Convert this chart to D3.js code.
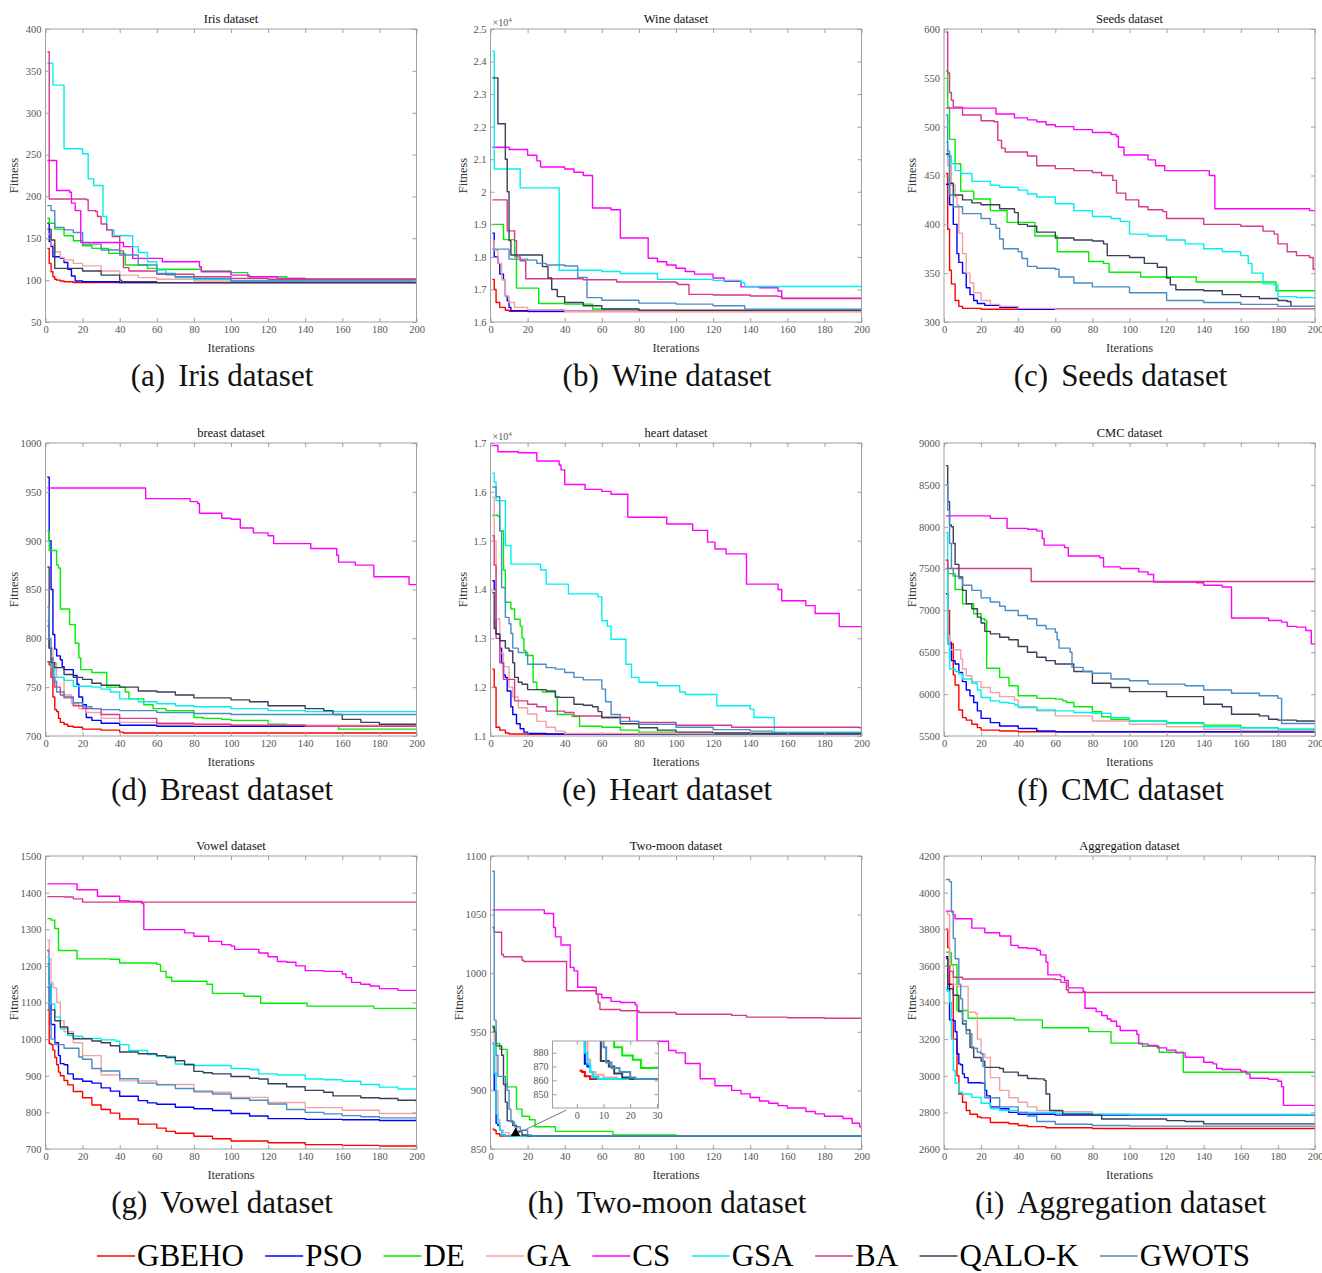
<!DOCTYPE html>
<html>
<head>
<meta charset="utf-8">
<script src="https://cdn.jsdelivr.net/npm/d3@7/dist/d3.min.js"></script>
<style>
body { margin: 0; background: #fff; }
svg text { font-family: "Liberation Serif", "Times New Roman", serif; }
</style>
</head>
<body>
<svg id="chart" width="1322" height="1273"></svg>
<script>
// methods and their line colours (same order in every panel)
var methods = ["GBEHO", "PSO", "DE", "GA", "CS", "GSA", "BA", "QALO-K", "GWOTS"];
var colors = ["#ff0000", "#0000ff", "#00ee00", "#f2a2a2", "#ff00ff", "#00f0f0", "#d8388a", "#3b3f57", "#4a8cc4"];
var iterTicks = [0, 20, 40, 60, 80, 100, 120, 140, 160, 180, 200];

// ---- (a) Iris ----
var irisTicks = [50, 100, 150, 200, 250, 300, 350, 400];
var iris = [
  [[1,138],[2,120],[3,110],[4,104],[5,101],[6,100],[8,99],[10,98],[15,97],[200,97]],
  [[1,168],[2,146],[3,140],[4,128],[8,126],[10,121],[12,113],[14,105],[16,99],[20,98],[40,97],[200,97]],
  [[1,174],[2,168],[5,161],[10,153],[15,147],[20,141],[25,138],[34,132],[43,118],[55,114],[60,113],[84,111],[100,109],[109,104],[130,102],[140,101],[200,100]],
  [[1,155],[3,142],[5,134],[8,127],[10,124],[15,120],[20,117],[30,111],[40,106],[50,103],[60,101],[80,99],[100,98],[140,97],[200,97]],
  [[1,243],[6,207],[13,205],[14,192],[16,183],[19,145],[42,140],[47,126],[63,122],[83,116],[84,110],[100,106],[110,104],[125,102],[140,101],[200,101]],
  [[1,359],[4,333],[10,257],[20,251],[23,221],[26,213],[31,176],[33,160],[37,153],[47,140],[50,133],[55,122],[60,112],[65,106],[70,103],[80,101],[100,99],[200,98]],
  [[1,373],[2,197],[22,196],[23,183],[27,182],[28,176],[30,167],[33,160],[36,152],[40,135],[42,115],[45,111],[60,107],[80,104],[100,102],[120,101],[200,101]],
  [[1,161],[3,148],[5,114],[20,111],[30,106],[40,100],[41,98],[60,97],[200,97]],
  [[1,189],[3,183],[5,163],[10,160],[15,157],[20,143],[30,136],[40,130],[50,118],[60,108],[70,104],[80,102],[100,99],[200,98]]
];

// ---- (b) Wine ----
var wineTicks = [16000, 17000, 18000, 19000, 20000, 21000, 22000, 23000, 24000, 25000];
var wine = [
  [[1,17310],[2,17000],[3,16600],[5,16450],[8,16360],[10,16330],[20,16320],[200,16300]],
  [[1,18730],[2,18000],[4,17800],[5,17470],[7,17300],[8,16800],[9,16650],[10,16450],[11,16350],[20,16330],[200,16310]],
  [[1,19000],[7,18530],[13,18000],[14,17040],[26,16570],[40,16550],[55,16400],[80,16350],[200,16330]],
  [[1,18500],[2,18200],[4,17800],[6,17300],[8,16800],[10,16600],[13,16450],[20,16380],[40,16330],[200,16300]],
  [[1,21370],[10,21300],[20,21120],[25,20950],[27,20760],[40,20700],[45,20600],[50,20500],[55,19500],[65,19450],[70,18580],[85,17960],[90,17850],[95,17750],[100,17650],[105,17550],[110,17470],[120,17350],[126,17250],[135,17080],[145,17050],[155,16950],[157,16720],[200,16720]],
  [[1,24320],[2,20700],[16,20120],[37,17590],[60,17550],[70,17490],[90,17310],[120,17280],[135,17200],[137,17090],[200,17090]],
  [[1,19750],[9,18800],[13,18500],[14,18000],[16,17880],[19,17330],[50,17300],[68,17230],[100,17200],[101,17150],[107,16850],[120,16830],[140,16800],[155,16780],[157,16730],[200,16720]],
  [[1,23500],[4,22090],[8,21000],[9,20000],[10,18500],[11,18060],[28,17700],[31,17350],[33,17000],[36,16780],[40,16600],[50,16500],[60,16400],[80,16360],[200,16330]],
  [[1,18240],[10,17930],[20,17900],[25,17800],[30,17750],[40,17720],[47,17370],[52,16750],[60,16670],[80,16580],[100,16550],[120,16500],[137,16390],[200,16390]]
];

// ---- (c) Seeds ----
var seedsTicks = [300, 350, 400, 450, 500, 550, 600];
var seeds = [
  [[1,452],[2,395],[3,353],[4,339],[6,322],[8,316],[10,314],[20,313],[200,312]],
  [[1,441],[3,420],[5,400],[7,370],[8,361],[10,350],[12,335],[14,328],[16,322],[18,319],[22,317],[30,315],[40,313],[200,312]],
  [[1,557],[2,520],[3,487],[6,462],[9,434],[16,426],[25,414],[34,402],[49,388],[61,372],[78,362],[86,360],[89,351],[106,346],[136,341],[179,332],[200,332]],
  [[1,476],[2,460],[4,440],[6,428],[7,420],[8,391],[10,370],[12,350],[14,340],[16,330],[20,322],[25,318],[30,316],[40,314],[60,313],[200,311]],
  [[1,519],[28,513],[38,509],[45,507],[50,505],[55,502],[60,500],[70,497],[80,494],[90,492],[93,490],[94,479],[97,471],[110,466],[114,460],[119,455],[143,450],[146,416],[197,414],[200,414]],
  [[1,484],[2,470],[4,462],[6,455],[9,452],[15,444],[25,440],[30,438],[40,435],[45,431],[50,428],[60,421],[70,414],[80,408],[90,406],[95,403],[100,390],[110,388],[120,384],[130,380],[140,375],[150,372],[160,368],[164,360],[166,350],[172,339],[178,338],[180,326],[190,325],[200,325]],
  [[1,597],[2,555],[3,535],[4,527],[5,520],[10,512],[20,506],[27,505],[29,486],[31,478],[33,474],[45,470],[50,460],[60,457],[70,455],[80,453],[85,450],[91,445],[93,432],[98,425],[105,418],[110,415],[118,413],[120,406],[140,400],[160,398],[172,393],[178,390],[180,380],[185,372],[190,368],[197,366],[199,354],[200,354]],
  [[1,472],[3,442],[5,430],[10,425],[15,422],[20,420],[30,416],[38,412],[40,400],[45,398],[50,392],[60,386],[70,384],[80,383],[86,380],[88,368],[100,366],[108,360],[115,356],[120,345],[122,338],[125,333],[140,332],[150,328],[160,326],[170,324],[180,322],[185,321],[187,316],[200,315]],
  [[1,512],[2,475],[3,430],[5,418],[10,411],[20,406],[25,400],[28,396],[30,385],[32,375],[40,372],[42,365],[45,357],[50,355],[60,354],[62,346],[70,340],[80,336],[100,330],[120,322],[140,320],[160,318],[180,316],[200,314]]
];

// ---- (d) Breast ----
var breastTicks = [700, 750, 800, 850, 900, 950, 1000];
var breast = [
  [[1,776],[2,773],[3,760],[4,740],[5,727],[6,725],[7,718],[8,714],[10,712],[12,710],[15,709],[20,707],[30,706],[40,704],[42,703],[200,703]],
  [[1,965],[2,900],[3,850],[4,804],[5,789],[6,782],[8,778],[9,771],[10,768],[15,762],[17,753],[18,740],[20,732],[22,719],[25,716],[30,713],[40,711],[60,710],[200,709]],
  [[1,910],[2,890],[6,875],[7,872],[8,830],[13,814],[16,795],[18,780],[19,768],[25,765],[33,750],[43,745],[45,738],[53,732],[58,728],[65,726],[80,719],[85,718],[95,717],[100,716],[120,712],[130,711],[140,710],[158,707],[200,705]],
  [[1,812],[2,790],[4,775],[6,760],[10,742],[14,733],[18,728],[22,724],[30,718],[40,714],[60,712],[80,711],[200,710]],
  [[1,954],[54,943],[78,940],[82,938],[83,928],[95,923],[100,922],[105,913],[112,908],[120,905],[123,897],[143,892],[157,885],[158,878],[167,875],[177,863],[196,855],[200,855]],
  [[1,818],[2,790],[3,770],[5,760],[10,757],[15,751],[25,750],[30,748],[35,745],[40,738],[50,735],[60,733],[70,731],[80,730],[100,728],[120,726],[140,725],[200,725]],
  [[1,813],[2,790],[3,780],[4,760],[5,750],[8,742],[10,740],[15,731],[20,728],[30,722],[40,718],[60,713],[80,712],[100,711],[140,710],[200,709]],
  [[1,873],[2,790],[3,775],[5,770],[10,763],[15,760],[20,758],[25,754],[30,752],[40,750],[50,746],[60,745],[70,742],[80,739],[100,737],[110,735],[120,731],[140,728],[150,726],[155,722],[160,717],[170,714],[180,712],[200,711]],
  [[1,832],[2,800],[3,780],[4,756],[6,745],[10,739],[15,734],[20,730],[25,728],[30,727],[40,726],[60,724],[80,723],[100,722],[200,722]]
];

// ---- (e) Heart ----
var heartTicks = [11000, 12000, 13000, 14000, 15000, 16000, 17000];
var heart = [
  [[1,12370],[2,12000],[3,11180],[5,11120],[8,11060],[10,11040],[20,11035],[200,11030]],
  [[1,14180],[2,14000],[3,13090],[5,12800],[6,12500],[7,12250],[8,12200],[9,11920],[11,11600],[12,11440],[14,11250],[16,11150],[18,11080],[20,11050],[30,11040],[200,11030]],
  [[1,15520],[4,15500],[5,15200],[7,14400],[8,13740],[11,13600],[13,13390],[16,13250],[17,13000],[18,12750],[19,12650],[23,12100],[25,11950],[28,11900],[35,11790],[36,11440],[44,11400],[48,11200],[60,11180],[70,11120],[80,11080],[100,11050],[200,11040]],
  [[1,15890],[2,15000],[3,13400],[5,12700],[7,12420],[10,12000],[12,11800],[15,11580],[20,11450],[25,11300],[30,11180],[35,11100],[40,11050],[200,11030]],
  [[1,16950],[4,16820],[15,16800],[25,16630],[37,16550],[38,16450],[40,16150],[51,16050],[60,16010],[65,15950],[74,15480],[95,15340],[109,15210],[117,14970],[121,14830],[127,14730],[138,14110],[155,14000],[157,13770],[170,13670],[175,13510],[188,13240],[200,13240]],
  [[1,16380],[2,16200],[3,15820],[8,14900],[11,14520],[27,14400],[30,14110],[42,13910],[58,13850],[60,13360],[63,13250],[65,12980],[73,12470],[76,12200],[80,12100],[90,12030],[102,11900],[105,11850],[122,11620],[140,11550],[142,11380],[153,11080],[200,11050]],
  [[1,15100],[2,14500],[3,13000],[5,12500],[7,12160],[13,11720],[20,11650],[25,11600],[30,11510],[40,11480],[45,11410],[60,11380],[75,11300],[80,11280],[100,11220],[130,11180],[199,11170],[200,11060]],
  [[1,13940],[2,13200],[3,13090],[5,12950],[8,12800],[10,12740],[12,12500],[13,12200],[15,12100],[17,12060],[20,11950],[30,11920],[35,11800],[37,11790],[45,11650],[50,11630],[55,11600],[58,11500],[60,11380],[70,11250],[80,11170],[90,11120],[100,11080],[120,11060],[140,11050],[200,11040]],
  [[1,16100],[3,15900],[5,15200],[6,14040],[8,13430],[10,13300],[11,13100],[12,12800],[15,12710],[20,12470],[30,12400],[35,12370],[40,12300],[45,12200],[50,12150],[60,11960],[62,11700],[65,11440],[70,11300],[80,11240],[100,11180],[120,11130],[140,11100],[152,11070],[200,11050]]
];

// ---- (f) CMC ----
var cmcTicks = [5500, 6000, 6500, 7000, 7500, 8000, 8500, 9000];
var cmc = [
  [[1,7600],[2,7000],[3,6620],[4,6600],[5,6230],[6,6110],[8,5810],[10,5720],[12,5690],[15,5640],[18,5600],[20,5570],[30,5560],[40,5550],[200,5540]],
  [[1,7200],[2,6600],[4,6400],[6,6360],[8,6260],[10,6150],[12,6050],[14,5980],[16,5900],[18,5800],[20,5710],[25,5660],[30,5620],[40,5590],[50,5560],[60,5550],[200,5545]],
  [[1,7500],[2,7440],[6,7250],[10,7080],[16,6960],[20,6900],[22,6880],[23,6310],[30,6200],[35,6100],[40,5980],[50,5950],[60,5940],[64,5920],[66,5900],[70,5850],[80,5790],[85,5730],[90,5700],[100,5680],[120,5660],[140,5630],[160,5600],[180,5580],[200,5560]],
  [[1,7150],[2,6700],[3,6530],[9,6420],[10,6300],[12,6220],[15,6150],[20,6080],[25,6020],[30,5970],[38,5930],[40,5850],[50,5800],[60,5740],[80,5680],[100,5640],[120,5610],[140,5580],[160,5565],[200,5550]],
  [[1,8130],[25,8100],[34,7980],[45,7970],[50,7950],[53,7860],[54,7780],[65,7750],[67,7650],[84,7630],[86,7520],[95,7500],[105,7460],[110,7430],[113,7340],[136,7330],[140,7300],[150,7280],[155,6910],[175,6880],[182,6860],[185,6810],[190,6800],[195,6760],[198,6600],[200,6590]],
  [[1,7930],[2,6600],[3,6300],[6,6270],[8,6240],[10,6180],[15,6130],[18,6050],[20,5960],[25,5920],[30,5900],[35,5890],[38,5870],[40,5840],[50,5810],[60,5800],[70,5780],[80,5770],[90,5720],[100,5680],[120,5650],[140,5610],[160,5595],[180,5580],[200,5570]],
  [[1,7600],[2,7500],[47,7345],[200,7345]],
  [[1,8730],[2,8300],[3,8020],[4,8000],[5,7800],[6,7550],[8,7400],[10,7240],[12,7080],[15,7020],[18,6920],[20,6850],[22,6750],[25,6720],[30,6680],[35,6650],[40,6570],[45,6500],[50,6440],[55,6400],[60,6360],[70,6270],[80,6130],[90,6080],[100,6030],[120,5970],[140,5880],[150,5850],[155,5760],[170,5740],[175,5700],[180,5690],[190,5680],[200,5670]],
  [[1,8500],[2,8200],[3,7800],[4,7500],[5,7410],[8,7380],[10,7300],[15,7240],[20,7150],[25,7100],[30,7050],[33,7000],[40,6940],[45,6900],[50,6820],[55,6780],[60,6740],[61,6650],[62,6550],[68,6500],[69,6320],[75,6270],[80,6250],[90,6180],[100,6160],[110,6120],[130,6100],[140,6050],[155,6010],[170,5980],[180,5950],[182,5650],[200,5640]]
];

// ---- (g) Vowel ----
var vowelTicks = [700, 800, 900, 1000, 1100, 1200, 1300, 1400, 1500];
var vowel = [
  [[1,1080],[2,988],[3,985],[4,970],[5,950],[6,930],[7,910],[8,900],[10,887],[12,875],[15,857],[20,840],[25,820],[30,808],[35,798],[40,782],[50,768],[60,757],[65,748],[70,743],[80,735],[90,728],[100,722],[120,717],[140,712],[160,710],[180,708],[200,706]],
  [[1,1242],[2,1150],[3,1040],[5,990],[7,955],[8,933],[10,930],[12,905],[15,891],[20,885],[25,880],[30,867],[35,858],[40,844],[50,832],[55,826],[60,822],[70,814],[80,810],[90,805],[100,797],[110,790],[120,783],[140,781],[160,780],[180,778],[200,774]],
  [[1,1329],[3,1325],[5,1302],[7,1242],[17,1219],[35,1218],[40,1208],[60,1204],[62,1185],[65,1169],[68,1158],[87,1150],[90,1125],[107,1117],[116,1098],[141,1090],[177,1084],[200,1084]],
  [[1,1270],[2,1220],[3,1155],[4,1140],[6,1100],[8,1050],[10,1020],[15,990],[20,955],[30,902],[40,886],[60,876],[80,855],[100,841],[120,827],[140,813],[160,806],[180,797],[200,789]],
  [[1,1424],[17,1408],[28,1390],[40,1378],[45,1376],[52,1370],[53,1299],[75,1290],[80,1281],[88,1267],[95,1258],[100,1254],[102,1245],[115,1235],[120,1225],[125,1212],[130,1210],[135,1200],[140,1187],[150,1185],[160,1178],[162,1168],[165,1155],[170,1150],[175,1145],[180,1138],[190,1133],[200,1133]],
  [[1,1224],[2,1150],[3,1096],[5,1060],[8,1028],[12,1010],[15,1008],[20,1002],[30,998],[38,994],[40,985],[45,969],[55,958],[60,953],[70,932],[80,928],[100,920],[110,917],[115,905],[125,902],[140,891],[150,889],[160,885],[170,876],[180,869],[190,864],[200,859]],
  [[1,1389],[10,1388],[15,1383],[20,1374],[200,1374]],
  [[1,1142],[2,1080],[5,1050],[8,1033],[12,1015],[15,1001],[25,995],[30,990],[35,982],[40,965],[50,960],[60,955],[65,950],[70,941],[75,930],[80,912],[85,908],[90,905],[100,898],[110,893],[115,891],[120,878],[130,870],[140,860],[150,855],[155,845],[170,840],[180,838],[190,833],[200,826]],
  [[1,1206],[2,1080],[3,1000],[5,985],[10,975],[18,951],[20,945],[25,920],[30,913],[40,892],[50,880],[60,875],[70,865],[80,858],[90,850],[100,838],[110,833],[120,823],[130,808],[140,800],[150,796],[160,791],[170,788],[180,785],[200,777]]
];

// ---- (h) Two-moon ----
var moonTicks = [850, 900, 950, 1000, 1050, 1100];
var moonInsetXTicks = [0, 10, 20, 30];
var moonInsetYTicks = [850, 860, 870, 880];
var moon = [
  [[1,867],[2,866],[3,863],[5,861],[200,861]],
  [[1,940],[2,900],[3,872],[4,870],[5,866],[6,862],[8,861],[200,861]],
  [[1,955],[2,950],[3,940],[5,935],[9,903],[14,884],[17,878],[21,875],[24,869],[35,865],[66,862],[100,861],[200,861]],
  [[1,950],[2,930],[3,900],[4,875],[5,866],[7,864],[10,862],[15,861],[200,861]],
  [[1,1054],[29,1051],[34,1039],[35,1031],[38,1024],[43,1005],[45,1002],[47,988],[57,982],[60,979],[65,976],[70,975],[78,973],[79,942],[96,934],[100,932],[105,923],[113,910],[121,904],[130,900],[135,897],[140,894],[145,891],[150,889],[155,887],[160,885],[170,882],[175,880],[180,878],[190,876],[195,872],[199,869],[200,869]],
  [[1,940],[2,915],[3,880],[4,872],[5,866],[6,862],[8,861],[200,861]],
  [[1,1039],[2,1035],[6,1016],[7,1014],[17,1011],[18,1010],[41,985],[57,982],[58,975],[59,969],[70,968],[80,966.5],[100,965],[130,964],[138,962.5],[160,962],[180,961.5],[200,961]],
  [[1,954],[2,950],[3,938],[6,930],[7,905],[8,890],[9,874],[12,870],[14,865],[17,862],[20,861],[200,861]],
  [[1,1087],[2,960],[3,930],[4,912],[8,906],[9,900],[10,884],[11,873],[13,869],[16,866],[20,862],[22,861],[200,861]]
];

// ---- (i) Aggregation ----
var aggTicks = [2600, 2800, 3000, 3200, 3400, 3600, 3800, 4000, 4200];
var agg = [
  [[1,3800],[2,3700],[3,3500],[5,3200],[7,3000],[8,2900],[10,2855],[12,2810],[14,2790],[18,2775],[20,2770],[25,2745],[35,2738],[40,2728],[45,2722],[55,2716],[80,2712],[200,2710]],
  [[1,3650],[2,3500],[3,3305],[5,3300],[6,3240],[7,3120],[8,3065],[9,3060],[10,3010],[11,2990],[13,2962],[20,2960],[22,2920],[23,2890],[25,2830],[30,2820],[35,2800],[40,2790],[60,2785],[200,2785]],
  [[1,3675],[3,3670],[4,3606],[7,3356],[13,3314],[38,3305],[53,3262],[78,3241],[90,3178],[107,3161],[116,3128],[129,3019],[200,3019]],
  [[1,3895],[2,3880],[3,3600],[5,3500],[7,3487],[13,3347],[17,3340],[18,3200],[20,3120],[22,3100],[25,2990],[30,2920],[35,2880],[40,2855],[45,2830],[50,2810],[60,2804],[80,2790],[100,2788],[200,2785]],
  [[1,3899],[5,3880],[6,3857],[15,3806],[22,3781],[30,3763],[36,3712],[40,3699],[45,3695],[50,3685],[52,3660],[55,3620],[56,3551],[63,3540],[65,3520],[67,3480],[75,3460],[76,3369],[82,3350],[85,3329],[88,3310],[90,3298],[93,3270],[95,3247],[104,3225],[105,3174],[110,3165],[115,3152],[120,3140],[125,3125],[130,3101],[140,3074],[145,3065],[147,3040],[150,3034],[160,3025],[163,3010],[165,2986],[175,2980],[180,2970],[182,2940],[183,2838],[200,2838]],
  [[1,3470],[2,3460],[3,3400],[4,3200],[5,3030],[6,2960],[8,2910],[10,2900],[15,2882],[20,2850],[25,2820],[30,2810],[40,2800],[60,2795],[80,2790],[100,2788],[200,2785]],
  [[1,3600],[3,3570],[5,3538],[10,3528],[60,3525],[63,3510],[66,3470],[67,3455],[200,3455]],
  [[1,3640],[2,3475],[5,3440],[8,3350],[10,3283],[12,3250],[14,3156],[16,3100],[20,3080],[22,3046],[30,3040],[32,3020],[40,3001],[45,2985],[50,2983],[54,2975],[55,2900],[57,2810],[64,2790],[80,2785],[85,2764],[120,2755],[130,2750],[140,2737],[200,2735]],
  [[1,4072],[3,4060],[4,3894],[5,3750],[6,3639],[8,3500],[9,3420],[10,3300],[12,3230],[15,3150],[18,3128],[20,3120],[21,3050],[22,2880],[30,2830],[40,2800],[45,2780],[50,2750],[60,2735],[80,2728],[100,2725],[200,2722]]
];

var panels = [
  {tag: "(a)", title: "Iris dataset", caption: "Iris dataset", data: iris, ticks: irisTicks},
  {tag: "(b)", title: "Wine dataset", caption: "Wine dataset", data: wine, ticks: wineTicks, sci: true},
  {tag: "(c)", title: "Seeds dataset", caption: "Seeds dataset", data: seeds, ticks: seedsTicks},
  {tag: "(d)", title: "breast dataset", caption: "Breast dataset", data: breast, ticks: breastTicks},
  {tag: "(e)", title: "heart dataset", caption: "Heart dataset", data: heart, ticks: heartTicks, sci: true},
  {tag: "(f)", title: "CMC dataset", caption: "CMC dataset", data: cmc, ticks: cmcTicks},
  {tag: "(g)", title: "Vowel dataset", caption: "Vowel dataset", data: vowel, ticks: vowelTicks},
  {tag: "(h)", title: "Two-moon dataset", caption: "Two-moon dataset", data: moon, ticks: moonTicks, inset: true},
  {tag: "(i)", title: "Aggregation dataset", caption: "Aggregation dataset", data: agg, ticks: aggTicks}
];

var svg = d3.select("#chart");
var colLeft = [45.5, 490.5, 944],
    rowTop = [29, 443, 856],
    W = 371,
    H = 293,
    frameColor = "#a0a0a0",
    tickColor = "#555";

function frameAxes(g, x, y, w, h, fmt, xt, yt, fs) {
  g.append("g").attr("transform", "translate(0," + h + ")")
    .call(d3.axisBottom(x).tickValues(xt).tickSize(-4).tickPadding(4))
    .call(styleAxis, fs);
  g.append("g")
    .call(d3.axisTop(x).tickValues(xt).tickSize(-4).tickFormat(""))
    .call(styleAxis, fs);
  g.append("g")
    .call(d3.axisLeft(y).tickValues(yt).tickSize(-4).tickPadding(4).tickFormat(fmt))
    .call(styleAxis, fs);
  g.append("g").attr("transform", "translate(" + w + ",0)")
    .call(d3.axisRight(y).tickValues(yt).tickSize(-4).tickFormat(""))
    .call(styleAxis, fs);
  g.append("rect").attr("width", w).attr("height", h)
    .attr("fill", "none").attr("stroke", frameColor).attr("stroke-width", 1);
}

function styleAxis(sel, fs) {
  sel.select(".domain").remove();
  sel.selectAll(".tick line").attr("stroke", frameColor);
  sel.selectAll(".tick text").attr("fill", tickColor)
    .style("font-size", fs + "px")
    .style("font-family", "'Liberation Serif', 'Times New Roman', serif");
}

function drawPanel(p, i) {
  var col = i % 3, row = Math.floor(i / 3);
  var left = colLeft[col], top = rowTop[row];
  var g = svg.append("g").attr("transform", "translate(" + left + "," + top + ")");

  var x = d3.scaleLinear().domain([0, 200]).range([0, W]);
  var y = d3.scaleLinear().domain(d3.extent(p.ticks)).range([H, 0]);
  var fmt = p.sci ? function(d) { return +(d / 1e4).toFixed(1); } : function(d) { return d; };

  g.append("rect").attr("width", W).attr("height", H).attr("fill", "#fff");

  var clipId = "clip" + i;
  g.append("clipPath").attr("id", clipId)
    .append("rect").attr("width", W).attr("height", H);

  var line = d3.line()
    .x(function(d) { return x(d[0]); })
    .y(function(d) { return y(d[1]); })
    .curve(d3.curveStepAfter);

  g.append("g").attr("clip-path", "url(#" + clipId + ")")
    .selectAll("path").data(p.data).join("path")
    .attr("d", line)
    .attr("fill", "none")
    .attr("stroke", function(d, k) { return colors[k]; })
    .attr("stroke-width", 1.4)
    .attr("stroke-linejoin", "round");

  frameAxes(g, x, y, W, H, fmt, iterTicks, p.ticks, 10.5);

  // title
  g.append("text").attr("x", W / 2).attr("y", -6)
    .attr("text-anchor", "middle").attr("fill", "#111")
    .style("font-size", "12.5px").text(p.title);

  if (p.sci) {
    var s = g.append("text").attr("x", 2).attr("y", -3)
      .attr("fill", tickColor).style("font-size", "10px");
    s.append("tspan").text("\u00d710");
    s.append("tspan").attr("dy", -4).style("font-size", "7px").text("4");
  }

  // axis labels
  g.append("text").attr("x", W / 2).attr("y", H + 30)
    .attr("text-anchor", "middle").attr("fill", "#333")
    .style("font-size", "12.5px").text("Iterations");
  var fitX = p.sci ? -24 : -28;
  g.append("text")
    .attr("transform", "translate(" + fitX + "," + (H / 2) + ") rotate(-90)")
    .attr("text-anchor", "middle").attr("fill", "#333")
    .style("font-size", "12.5px").text("Fitness");

  // caption under the subplot
  var cap = g.append("text").attr("x", W / 2 - 9).attr("y", H + 64)
    .attr("text-anchor", "middle").attr("fill", "#111")
    .style("font-size", "31px");
  cap.append("tspan").text(p.tag);
  cap.append("tspan").attr("dx", 13).text(p.caption);

  if (p.inset) drawInset(g, x, y, p.data, left, top);
}

function drawInset(g, mx, my, data, left, top) {
  // zoomed view of the first 30 iterations
  var ix = 552.5 - left, iy = 1041 - top, iw = 106, ih = 67;
  var x = d3.scaleLinear().domain([-9.1, 30.6]).range([0, iw]);
  var y = d3.scaleLinear().domain([840, 888.5]).range([ih, 0]);

  // pointer from the marked region to the inset
  var px = mx(13.5), py = my(862.5);
  g.append("line").attr("x1", px).attr("y1", py)
    .attr("x2", ix + 14).attr("y2", iy + ih + 2)
    .attr("stroke", "#777").attr("stroke-width", 1);
  g.append("path")
    .attr("d", d3.symbol(d3.symbolTriangle, 40)())
    .attr("transform", "translate(" + px + "," + (py - 1) + ")")
    .attr("fill", "#000");

  var ig = g.append("g").attr("transform", "translate(" + ix + "," + iy + ")");
  ig.append("rect").attr("width", iw).attr("height", ih).attr("fill", "#fff");
  ig.append("clipPath").attr("id", "clipInset")
    .append("rect").attr("width", iw).attr("height", ih);

  var line = d3.line()
    .x(function(d) { return x(d[0]); })
    .y(function(d) { return y(d[1]); })
    .curve(d3.curveStepAfter);

  ig.append("g").attr("clip-path", "url(#clipInset)")
    .selectAll("path").data(data).join("path")
    .attr("d", line)
    .attr("fill", "none")
    .attr("stroke", function(d, k) { return colors[k]; })
    .attr("stroke-width", 2);

  frameAxes(ig, x, y, iw, ih, function(d) { return d; }, moonInsetXTicks, moonInsetYTicks, 10);
}

panels.forEach(drawPanel);

// legend along the bottom, spread over the same span as the figure
var legend = svg.append("g");
var lineLen = 38, legY = 1256, spanL = 97, spanR = 1250;
var items = methods.map(function(m, k) {
  var item = legend.append("g");
  item.append("line").attr("x1", 0).attr("x2", lineLen)
    .attr("y1", legY).attr("y2", legY)
    .attr("stroke", colors[k]).attr("stroke-width", 1.6);
  var t = item.append("text").attr("x", lineLen + 2).attr("y", legY + 10)
    .attr("fill", "#000").style("font-size", "31px").text(m);
  return {g: item, w: lineLen + 2 + t.node().getComputedTextLength()};
});
var natural = d3.sum(items, function(d) { return d.w; });
var gap = (spanR - spanL - natural) / (items.length - 1);
var cx = spanL;
items.forEach(function(d) {
  d.g.attr("transform", "translate(" + cx + ",0)");
  cx += d.w + gap;
});
</script>
</body>
</html>
